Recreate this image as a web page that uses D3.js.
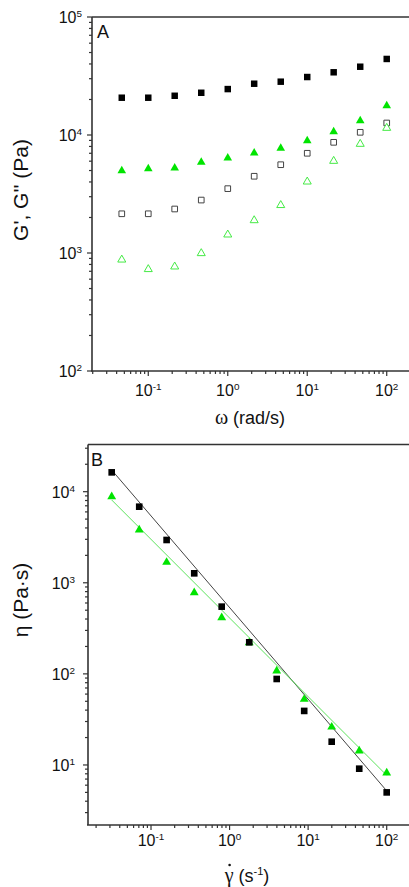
<!DOCTYPE html>
<html>
<head>
<meta charset="utf-8">
<script src="https://cdn.jsdelivr.net/npm/d3@7/dist/d3.min.js"></script>
<style>
  html, body { margin: 0; padding: 0; background: #fff; }
  svg { display: block; font-family: "Liberation Sans", Arial, sans-serif; }
</style>
</head>
<body>
<svg id="chart" width="409" height="887"></svg>
<script>
// ---- Panel A: oscillatory frequency sweep ----
const omega = [0.0464, 0.1, 0.215, 0.464, 1, 2.15, 4.64, 10, 21.5, 46.4, 100];
const gPrimeBlack   = [20700, 20700, 21500, 22800, 24500, 27200, 28300, 31000, 34000, 37900, 44100];
const gDoubleBlack  = [2150, 2150, 2360, 2810, 3510, 4470, 5600, 7000, 8670, 10540, 12640];
const gPrimeGreen   = [4980, 5180, 5250, 5870, 6380, 7040, 7710, 8950, 10660, 13200, 17700];
const gDoubleGreen  = [877, 728, 766, 994, 1430, 1890, 2540, 4020, 6020, 8390, 11460];

// ---- Panel B: steady shear viscosity ----
const shearRate = [0.0316, 0.0708, 0.158, 0.355, 0.794, 1.78, 3.98, 8.91, 19.95, 44.7, 100];
const etaBlack  = [16300, 6840, 2950, 1270, 547, 222, 87.9, 39.2, 18.0, 9.1, 5.0];
const etaGreen  = [8810, 3800, 1680, 778, 414, 220, 108, 52.6, 26.1, 14.3, 8.2];
// power-law fit lines: [start, end] over the measured shear-rate range
const fitRate  = [0.0316, 100];
const fitBlack = [17300, 5.2];
const fitGreen = [8110, 7.7];

// axis tick exponents
const xTickExp = [-1, 0, 1, 2];
const yTickExpA = [2, 3, 4, 5];
const yTickExpB = [1, 2, 3, 4];

const GREEN = "#00e400";
const GREEN_OPEN = "#45ea45";
const AXIS = "#333";

const svg = d3.select("#chart");

function logTicks(lo, hi) {
  const out = [];
  for (let e = Math.floor(Math.log10(lo)) - 1; e <= Math.ceil(Math.log10(hi)); e++) {
    for (let m = 1; m <= 9; m++) {
      const v = m * Math.pow(10, e);
      if (v >= lo * 0.999 && v <= hi * 1.001) out.push({ v, major: m === 1 });
    }
  }
  return out;
}

function sciLabel(g, x, y, exp, anchor, size) {
  const t = g.append("text")
    .attr("x", x).attr("y", y)
    .attr("text-anchor", anchor)
    .attr("font-size", size)
    .attr("fill", "#111");
  t.append("tspan").text("10");
  t.append("tspan").attr("dy", -6).attr("font-size", size * 0.62).text(String(exp));
}

function panel(opts) {
  const g = svg.append("g");
  const x = d3.scaleLog().domain(opts.xDomain).range([opts.left, opts.right]);
  const y = d3.scaleLog().domain(opts.yDomain).range([opts.bottom, opts.top]);

  // frame: top border and axes
  g.append("line").attr("x1", opts.left).attr("x2", opts.right)
    .attr("y1", opts.top).attr("y2", opts.top)
    .attr("stroke", AXIS).attr("stroke-width", 1.6);
  g.append("line").attr("x1", opts.left).attr("x2", opts.left)
    .attr("y1", opts.top).attr("y2", opts.bottom)
    .attr("stroke", AXIS).attr("stroke-width", 1.6);
  g.append("line").attr("x1", opts.left - 1).attr("x2", opts.right)
    .attr("y1", opts.bottom).attr("y2", opts.bottom)
    .attr("stroke", AXIS).attr("stroke-width", 1.6);

  // y ticks (outward, left)
  logTicks(opts.yDomain[0], opts.yDomain[1]).forEach(t => {
    const yy = y(t.v);
    g.append("line").attr("x1", opts.left).attr("x2", opts.left - (t.major ? 5 : 3))
      .attr("y1", yy).attr("y2", yy).attr("stroke", AXIS).attr("stroke-width", 1.2);
  });
  // x ticks (outward, down)
  logTicks(opts.xDomain[0], opts.xDomain[1]).forEach(t => {
    const xx = x(t.v);
    g.append("line").attr("x1", xx).attr("x2", xx)
      .attr("y1", opts.bottom).attr("y2", opts.bottom + (t.major ? 5 : 3))
      .attr("stroke", AXIS).attr("stroke-width", 1.2);
  });

  opts.yTicks.forEach(e => sciLabel(g, opts.left - opts.yLabelGap, y(Math.pow(10, e)) + 6, e, "end", opts.tickFont));
  xTickExp.forEach(e => sciLabel(g, x(Math.pow(10, e)), opts.bottom + opts.xLabelDy, e, "middle", opts.tickFont));

  return { g, x, y };
}

const sym = (type, size) => d3.symbol().type(type).size(size)();

// ---------------- Panel A ----------------
const A = panel({
  left: 92, right: 412, top: 17, bottom: 371,
  xDomain: [Math.pow(10, -1.708), Math.pow(10, 2.318)],
  yDomain: [100, 100000],
  yTicks: yTickExpA, yLabelGap: 10, xLabelDy: 25, tickFont: 16
});

function drawSeries(p, xs, ys, shape, size, fill, stroke, sw) {
  p.g.append("g").selectAll("path").data(xs.map((v, i) => [v, ys[i]])).join("path")
    .attr("d", sym(shape, size))
    .attr("transform", d => `translate(${p.x(d[0])},${p.y(d[1])})`)
    .attr("fill", fill).attr("stroke", stroke).attr("stroke-width", sw);
}

drawSeries(A, omega, gDoubleBlack, d3.symbolSquare, 32, "#fff", "#444", 1);
drawSeries(A, omega, gDoubleGreen, d3.symbolTriangle, 28, "#fff", GREEN_OPEN, 1);
drawSeries(A, omega, gPrimeGreen, d3.symbolTriangle, 32, GREEN, "none", 0);
drawSeries(A, omega, gPrimeBlack, d3.symbolSquare, 42, "#000", "none", 0);

A.g.append("text").attr("x", 97).attr("y", 38).attr("font-size", 18).attr("fill", "#111").text("A");
const wl = A.g.append("text").attr("x", 250).attr("y", 424).attr("text-anchor", "middle")
  .attr("font-size", 18).attr("fill", "#111");
wl.append("tspan").attr("font-family", "'Liberation Serif', 'Times New Roman', serif").attr("font-size", 20).text("ω");
wl.append("tspan").text(" (rad/s)");
A.g.append("text").attr("transform", "translate(28,190) rotate(-90)")
  .attr("text-anchor", "middle").attr("font-size", 21).attr("fill", "#111")
  .text("G', G'' (Pa)");

// ---------------- Panel B ----------------
const B = panel({
  left: 88, right: 412, top: 444.5, bottom: 825,
  xDomain: [Math.pow(10, -1.802), Math.pow(10, 2.322)],
  yDomain: [Math.pow(10, 0.341), Math.pow(10, 4.518)],
  yTicks: yTickExpB, yLabelGap: 13, xLabelDy: 21, tickFont: 16
});

const line = d3.line().x(d => B.x(d[0])).y(d => B.y(d[1]));
B.g.append("path").datum(fitRate.map((v, i) => [v, fitBlack[i]]))
  .attr("d", line).attr("fill", "none").attr("stroke", "#444").attr("stroke-width", 1);
B.g.append("path").datum(fitRate.map((v, i) => [v, fitGreen[i]]))
  .attr("d", line).attr("fill", "none").attr("stroke", "#5de45d").attr("stroke-width", 1);

drawSeries(B, shearRate, etaGreen, d3.symbolTriangle, 34, GREEN, "none", 0);
drawSeries(B, shearRate, etaBlack, d3.symbolSquare, 44, "#000", "none", 0);

B.g.append("text").attr("x", 91).attr("y", 466).attr("font-size", 18).attr("fill", "#111").text("B");
B.g.append("text").attr("transform", "translate(28,600) rotate(-90)")
  .attr("text-anchor", "middle").attr("font-size", 21).attr("fill", "#111")
  .text("η (Pa·s)");

// x label: shear rate, gamma with an overdot
const xl = B.g.append("text").attr("x", 247).attr("y", 882).attr("text-anchor", "middle")
  .attr("font-size", 18).attr("fill", "#111");
xl.append("tspan").attr("font-family", "'Liberation Serif', 'Times New Roman', serif")
  .attr("font-size", 20).text("γ");
xl.append("tspan").text(" (s");
xl.append("tspan").attr("dy", -7).attr("font-size", 11).text("-1");
xl.append("tspan").attr("dy", 7).text(")");
const xlNode = xl.node();
const gStart = xlNode.getStartPositionOfChar(0);
const gEnd = xlNode.getEndPositionOfChar(0);
B.g.append("circle").attr("cx", (gStart.x + gEnd.x) / 2 + 0.5).attr("cy", 865)
  .attr("r", 1.3).attr("fill", "#111");
</script>
</body>
</html>
